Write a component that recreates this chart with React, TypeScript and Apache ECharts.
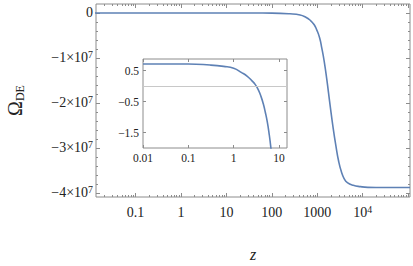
import React, { useEffect, useRef } from "react";
import * as echarts from "echarts";

// ---- data ----
const zValues = [
  0.01, 0.03, 0.1, 0.3, 0.6, 1, 1.5, 2, 2.5, 3, 3.5, 4, 4.5, 5, 5.5, 6, 6.6, 8, 12,
  20, 40, 100, 250, 420, 550, 690, 850, 980, 1130, 1260, 1420, 1620, 1900, 2240,
  2600, 2950, 3400, 3900, 4600, 6200, 9000, 13000, 30000, 110000,
];
const omegaValues = [
  0.72, 0.72, 0.72, 0.685, 0.64, 0.58, 0.44, 0.32, 0.18, 0.05, -0.12, -0.33, -0.57,
  -0.85, -1.15, -1.5, -1.98, -3.2, -9, -35, -250, -2e4, -1.8e5, -4.4e5, -9.0e5,
  -1.56e6, -2.55e6, -3.8e6, -5.55e6, -7.8e6, -1.07e7, -1.47e7, -2.02e7, -2.56e7,
  -2.98e7, -3.29e7, -3.53e7, -3.68e7, -3.77e7, -3.83e7, -3.86e7, -3.875e7,
  -3.88e7, -3.88e7,
];

// main axes
const mainXRange = [0.0135, 110000];
const mainYRange = [-4.09e7, 0.2e7];
const mainXMajor = [0.1, 1, 10, 100, 1000, 10000, 100000];
const mainXLabelValues = [0.1, 1, 10, 100, 1000, 10000];
const mainXLabels = ["0.1", "1", "10", "100", "1000", "10{sup|4}"];
const decades = [0.01, 0.1, 1, 10, 100, 1000, 10000];
const minorMultipliers = [2, 3, 4, 5, 6, 7, 8, 9];
const mainYMajor = [0, -1e7, -2e7, -3e7, -4e7];
const mainYLabels = ["0", "−1×10{sup|7}", "−2×10{sup|7}", "−3×10{sup|7}", "−4×10{sup|7}"];
const mainYMinorStep = 0.2e7;

// inset axes
const insetMaxZ = 12;
const insetXRange = [0.01, 15];
const insetYRange = [-2, 0.88];
const insetXTicks = [0.01, 0.1, 1, 10];
const insetXLabels = ["0.01", "0.1", "1", "10"];
const insetYTicks = [0.5, -0.5, -1.5];
const insetYLabels = ["0.5", "−0.5", "−1.5"];

const FONT = "Liberation Serif, Times New Roman, serif";
const FRAME = "#8c8c8c";
const TICK = "#8c8c8c";
const TEXT = "#222";
const LINE = "#5e81b5";

const mainXMinor: number[] = [];
decades.forEach((d) => minorMultipliers.forEach((m) => mainXMinor.push(d * m)));
const mainYMinor: number[] = [];
for (let v = mainYMajor[mainYMajor.length - 1]; v < 0; v += mainYMinorStep) {
  const r = Math.round(v / 1e5) * 1e5;
  if (!mainYMajor.includes(r)) mainYMinor.push(r);
}

function lookup(values: number[], labels: string[]) {
  return (v: number) => {
    for (let i = 0; i < values.length; i++) {
      const a = values[i];
      if (Math.abs(a - v) <= Math.abs(a) * 1e-6 + 1e-9) return labels[i];
    }
    return "";
  };
}

function axis(
  dim: "x" | "y",
  gridIndex: number,
  position: string,
  type: "log" | "value",
  range: number[],
  ticks: number[],
  tickLen: number,
  labelValues?: number[],
  labels?: string[],
  fontSize = 14,
  margin = 6,
  extra: any = {}
) {
  const a: any = {
    gridIndex,
    type,
    position,
    min: range[0],
    max: range[1],
    logBase: 10,
    axisLine: { show: false, onZero: false },
    splitLine: { show: false },
    minorTick: { show: false },
    axisTick: {
      show: true,
      inside: true,
      length: tickLen,
      customValues: ticks.filter((t) => t >= range[0] && t <= range[1]),
      lineStyle: { color: TICK, width: 1 },
    },
    axisLabel: { show: false },
    ...extra,
  };
  if (labelValues && labels) {
    a.axisLabel = {
      show: true,
      customValues: labelValues,
      formatter: lookup(labelValues, labels),
      fontFamily: FONT,
      fontSize,
      color: TEXT,
      margin,
      lineHeight: fontSize + 2,
      rich: {
        sup: {
          fontFamily: FONT,
          fontSize: fontSize * 0.7,
          lineHeight: fontSize * 0.7,
          verticalAlign: "top",
          color: TEXT,
        },
      },
    };
  }
  if (type === "value") delete a.logBase;
  return a;
}

export default function App() {
  const ref = useRef<HTMLDivElement>(null);
  useEffect(() => {
    if (!ref.current) return;
    const chart = echarts.init(ref.current, undefined, { renderer: "svg" });
    const data = zValues.map((z, i) => [z, omegaValues[i]]);
    const insetData = data.filter((d) => d[0] <= insetMaxZ);

    const xAxes = [
      axis("x", 0, "bottom", "log", mainXRange, mainXMajor, 4, mainXLabelValues, mainXLabels, 14, 7, {
        name: "z",
        nameLocation: "middle",
        nameGap: 49,
        nameTextStyle: { fontFamily: FONT, fontStyle: "italic", fontSize: 16, color: TEXT },
      }),
      axis("x", 0, "bottom", "log", mainXRange, mainXMinor, 2),
      axis("x", 0, "top", "log", mainXRange, mainXMajor, 4),
      axis("x", 0, "top", "log", mainXRange, mainXMinor, 2),
      axis("x", 1, "bottom", "log", insetXRange, insetXTicks, 3, insetXTicks, insetXLabels, 11.5, 3),
      axis("x", 1, "top", "log", insetXRange, insetXTicks, 3),
    ];
    const yAxes = [
      axis("y", 0, "left", "value", mainYRange, mainYMajor, 4, mainYMajor, mainYLabels, 14, 3, {
        name: "{o|Ω}{s|DE}",
        nameLocation: "middle",
        nameGap: 70,
        nameRotate: 90,
        nameTextStyle: {
          fontFamily: FONT,
          color: TEXT,
          rich: {
            o: { fontFamily: FONT, fontSize: 20, lineHeight: 22, color: TEXT },
            s: { fontFamily: FONT, fontSize: 12, lineHeight: 13, verticalAlign: "bottom", color: TEXT },
          },
        },
      }),
      axis("y", 0, "left", "value", mainYRange, mainYMinor, 2),
      axis("y", 0, "right", "value", mainYRange, mainYMajor, 4),
      axis("y", 0, "right", "value", mainYRange, mainYMinor, 2),
      axis("y", 1, "left", "value", insetYRange, insetYTicks, 3, insetYTicks, insetYLabels, 11.5, 4),
      axis("y", 1, "right", "value", insetYRange, insetYTicks, 3),
    ];

    chart.setOption({
      animation: false,
      backgroundColor: "#fff",
      grid: [
        {
          left: 96, top: 4, width: 314, height: 193,
          show: true, borderColor: FRAME, borderWidth: 1, backgroundColor: "transparent",
          containLabel: false, outerBoundsMode: "none",
        },
        {
          left: 143, top: 59, width: 144, height: 89,
          show: true, borderColor: FRAME, borderWidth: 1, backgroundColor: "#fff",
          containLabel: false, outerBoundsMode: "none",
        },
      ],
      xAxis: xAxes,
      yAxis: yAxes,
      series: [
        {
          type: "line",
          xAxisIndex: 0,
          yAxisIndex: 0,
          data,
          showSymbol: false,
          symbol: "none",
          smooth: 0.5,
          clip: true,
          lineStyle: { color: LINE, width: 1.6 },
        },
        {
          type: "line",
          xAxisIndex: 4,
          yAxisIndex: 4,
          data: insetData,
          showSymbol: false,
          symbol: "none",
          smooth: 0.5,
          clip: true,
          lineStyle: { color: LINE, width: 1.6 },
          markLine: {
            silent: true,
            symbol: ["none", "none"],
            label: { show: false },
            lineStyle: { color: "#c8c8c8", type: "solid", width: 1 },
            data: [{ yAxis: 0 }],
          },
        },
      ],
    });
    return () => chart.dispose();
  }, []);
  return (
    <div
      ref={ref}
      style={{ position: "fixed", left: 0, top: 0, width: 413, height: 266 }}
    />
  );
}
